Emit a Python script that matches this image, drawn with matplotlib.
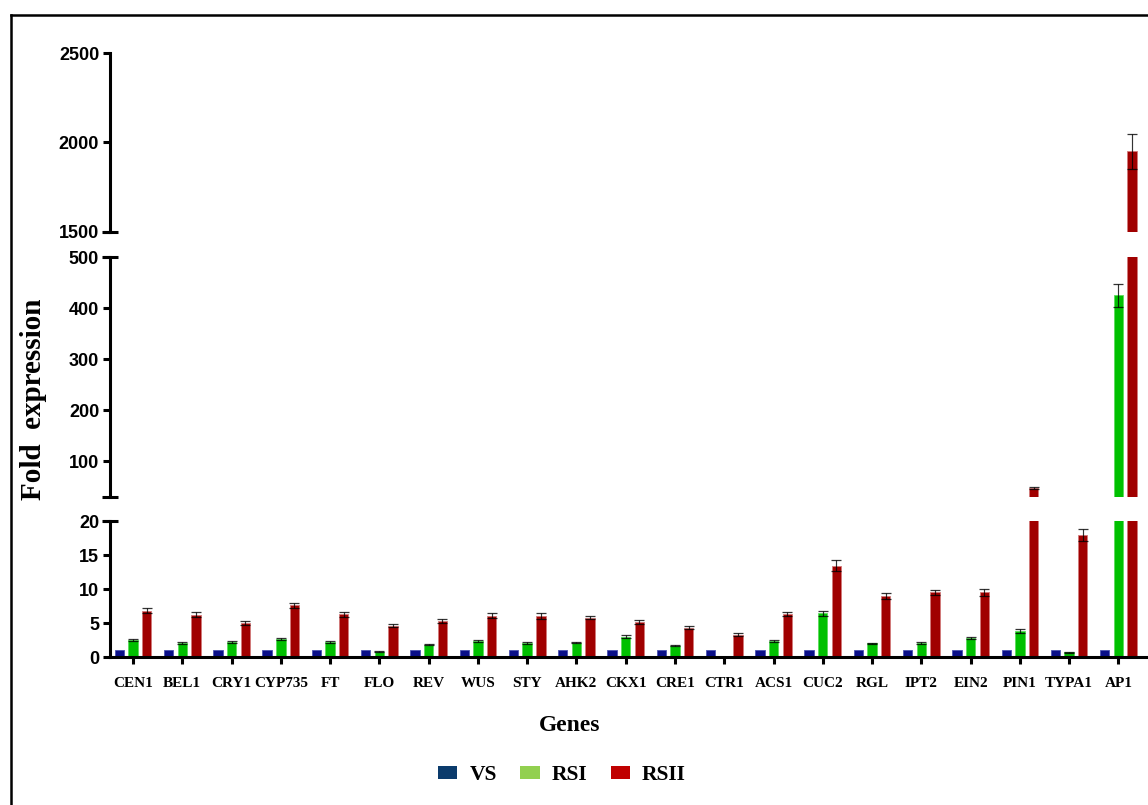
import numpy as np
import matplotlib
matplotlib.use("Agg")
import matplotlib.pyplot as plt
from matplotlib.lines import Line2D
from matplotlib.patches import Patch
from matplotlib.ticker import FixedLocator

# ---- data -------------------------------------------------------------
genes = ["CEN1", "BEL1", "CRY1", "CYP735", "FT", "FLO", "REV", "WUS", "STY",
         "AHK2", "CKX1", "CRE1", "CTR1", "ACS1", "CUC2", "RGL", "IPT2", "EIN2",
         "PIN1", "TYPA1", "AP1"]

vs = [1.0, 1.0, 1.0, 1.0, 1.0, 1.0, 1.0, 1.0, 1.0, 1.0, 1.0,
      1.0, 1.0, 1.0, 1.0, 1.0, 1.0, 1.0, 1.0, 1.0, 1.0]

rsi = [2.5, 2.0, 2.2, 2.7, 2.2, 0.8, 1.8, 2.35, 2.05, 2.1, 3.0,
       1.65, 0.05, 2.35, 6.4, 2.0, 2.1, 2.8, 3.8, 0.7, 425.0]
rsi_err = [0.15, 0.15, 0.15, 0.15, 0.15, 0.1, 0.1, 0.15, 0.1, 0.1, 0.2,
           0.1, 0.02, 0.15, 0.4, 0.1, 0.15, 0.15, 0.25, 0.1, 22.0]

rsii = [6.8, 6.2, 5.0, 7.6, 6.3, 4.6, 5.3, 6.1, 6.0, 5.8, 5.2,
        4.3, 3.3, 6.3, 13.4, 9.0, 9.5, 9.5, 48.0, 17.9, 1950.0]
rsii_err = [0.35, 0.35, 0.35, 0.4, 0.35, 0.2, 0.3, 0.3, 0.4, 0.25, 0.3,
            0.2, 0.2, 0.25, 0.8, 0.4, 0.35, 0.5, 2.5, 0.9, 100.0]

series_names = ["VS", "RSI", "RSII"]

# y-axis segments (bottom, middle, top) and their tick labels
seg_limits = [(0, 20), (30, 500), (1500, 2500)]
seg_ticks = [[0, 5, 10, 15, 20], [100, 200, 300, 400, 500], [1500, 2000, 2500]]
seg_caps = [[20], [30, 500], [1500]]

# ---- style -------------------------------------------------------------
bar_colors = ["#0a0f88", "#00c000", "#a00000"]
bar_edges = ["#4a52b0", "#5cdc5c", "#d27a7a"]
legend_colors = ["#0b3b6c", "#92d050", "#c00000"]
SERIF = "Liberation Serif"
SANS = "Liberation Sans"

W, H = 1148, 805
fig = plt.figure(figsize=(W / 100, H / 100), dpi=100)

def fx(px):
    return px / W

def fy(px):
    return 1 - px / H

# axes rectangles in pixel rows (top, bottom) for each segment
seg_rows = [(521, 657), (257, 497), (53, 232)]
left_px = 110
x = np.arange(len(genes))
width = 0.19
offset = 0.277
xlim = (-0.467, 20.6)

axes = []
for (lo, hi), (top, bot), ticks, caps in zip(seg_limits, seg_rows, seg_ticks, seg_caps):
    ax = fig.add_axes([fx(left_px), fy(bot), 1 - fx(left_px), (bot - top) / H])
    ax.set_facecolor("none")
    ax.set_xlim(*xlim)
    ax.set_ylim(lo, hi)

    for vals, err, off, c, ec in zip([vs, rsi, rsii], [None, rsi_err, rsii_err],
                                     [-offset, 0, offset], bar_colors, bar_edges):
        ax.bar(x + off, vals, width, color=c, edgecolor=ec, linewidth=0.6, zorder=2)
        if err is not None:
            ax.errorbar(x + off, vals, yerr=err, fmt="none", ecolor="black",
                        elinewidth=0.85, capsize=3.5, capthick=0.9, alpha=0.8, zorder=3)

    for s in ["top", "right"]:
        ax.spines[s].set_visible(False)
    ax.spines["left"].set_linewidth(2.2)
    ax.spines["bottom"].set_linewidth(2.2)

    ax.yaxis.set_major_locator(FixedLocator(ticks))
    ax.yaxis.set_minor_locator(FixedLocator(caps))
    ax.yaxis.remove_overlapping_locs = False
    ax.tick_params(axis="y", which="major", direction="out", length=4.8, width=2.2,
                   pad=3, labelsize=13)
    ax.tick_params(axis="y", which="minor", direction="inout", length=11.3, width=2.2)
    for lab in ax.get_yticklabels():
        lab.set_fontfamily(SANS)
        lab.set_fontweight("bold")
    axes.append(ax)

ax_bot, ax_mid, ax_top = axes
for ax in (ax_mid, ax_top):
    ax.spines["bottom"].set_visible(False)
    ax.tick_params(axis="x", which="both", bottom=False, labelbottom=False)

ax_bot.set_xticks(x)
ax_bot.set_xticklabels(genes, fontfamily=SERIF, fontweight="bold", fontsize=11)
ax_bot.tick_params(axis="x", direction="out", length=4.7, width=2.2, pad=10)

# axis titles
fig.text(fx(34), fy(399), "Fold  expression", rotation=90, ha="center", va="center",
         fontfamily=SERIF, fontweight="bold", fontsize=21)
fig.text(fx(570), fy(725), "Genes", ha="center", va="center",
         fontfamily=SERIF, fontweight="bold", fontsize=17)

# legend
handles = [Patch(facecolor=c, edgecolor="none") for c in legend_colors]
leg = fig.legend(handles, series_names, loc="center", bbox_to_anchor=(fx(562), fy(775)),
                 ncol=3, frameon=False, handlelength=0.9, handleheight=0.55,
                 handletextpad=0.55, columnspacing=1.1,
                 prop={"family": SERIF, "weight": "bold", "size": 15.5})

# outer frame
fig.add_artist(Line2D([fx(11), 1.0], [fy(15), fy(15)], transform=fig.transFigure,
                      color="black", linewidth=1.8))
fig.add_artist(Line2D([fx(11), fx(11)], [fy(15), 0.0], transform=fig.transFigure,
                      color="black", linewidth=1.8))

fig.savefig("out.png", dpi=100, facecolor="white")
